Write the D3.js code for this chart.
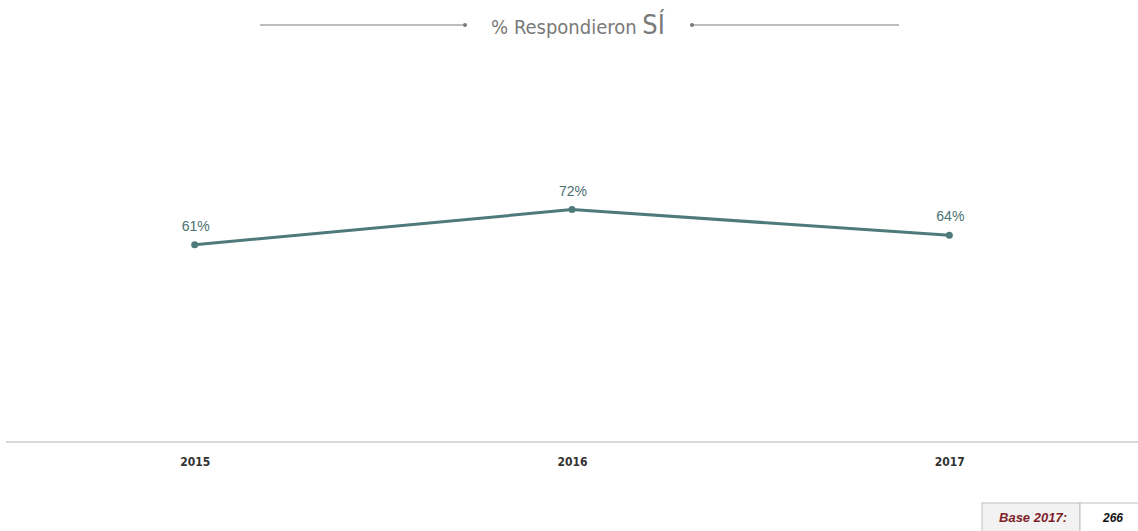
<!DOCTYPE html>
<html>
  <head>
    <meta http-equiv="Content-Type" content="text/html;charset=utf-8"/>
    <script src="https://cdn.jsdelivr.net/npm/d3@7"></script>
    <style type="text/css">
body {
  margin: 0;
  background: #fff;
  overflow: hidden;
}
.title {
  font-family: "Liberation Sans Narrow", "DejaVu Sans Condensed", sans-serif;
  fill: #7a7a7a;
}
.axis text {
  font: bold 12px "Liberation Sans Narrow", "DejaVu Sans Condensed", sans-serif;
  fill: #333;
}
.label {
  font: 14px "Liberation Sans", Arial, sans-serif;
  fill: #4a7070;
}
    </style>
  </head>
  <body>
    <svg></svg>
    <script type="text/javascript">

var years = ["2015", "2016", "2017"];
var values = [61, 72, 64];
var baseLabel = "Base 2017:";
var baseValue = "266";

var W = 1138, H = 531;

var svg = d3.select("svg")
    .attr("width", W)
    .attr("height", H);

var x = d3.scalePoint()
    .domain(years)
    .range([6, 1138])
    .padding(0.5);

var y = d3.scaleLinear()
    .domain([0, 100])
    .range([440, 120]);

var data = years.map((d, i) => ({year: d, val: values[i]}));

// title with side rules
var title = svg.append("g").attr("class", "title");
var tt = title.append("text")
    .attr("x", 578)
    .attr("y", 34)
    .attr("text-anchor", "middle");
tt.append("tspan").attr("font-size", 20).text("% Respondieron ");
tt.append("tspan").attr("font-size", 27).text("SÍ");

[[260, 465], [692, 899]].forEach(function (s, i) {
  title.append("line")
      .attr("x1", s[0]).attr("x2", s[1])
      .attr("y1", 25).attr("y2", 25)
      .attr("stroke", "#7a7a7a")
      .attr("stroke-width", 1);
  title.append("circle")
      .attr("cx", i === 0 ? s[1] : s[0])
      .attr("cy", 25)
      .attr("r", 2)
      .attr("fill", "#7a7a7a");
});

// x axis
var axis = svg.append("g")
    .attr("class", "axis")
    .attr("transform", "translate(0," + 442 + ")")
    .call(d3.axisBottom(x).tickSize(0).tickPadding(15));
axis.select(".domain")
    .attr("d", "M6,0H1138")
    .attr("stroke", "#d9d9d9")
    .attr("stroke-width", 2);

// line
var line = d3.line()
    .x(d => x(d.year))
    .y(d => y(d.val));

svg.append("path")
    .datum(data)
    .attr("d", line)
    .attr("fill", "none")
    .attr("stroke", "#4e7a7a")
    .attr("stroke-width", 3);

svg.selectAll("circle.pt")
    .data(data)
  .enter().append("circle")
    .attr("class", "pt")
    .attr("cx", d => x(d.year))
    .attr("cy", d => y(d.val))
    .attr("r", 3.5)
    .attr("fill", "#4e7a7a");

svg.selectAll("text.label")
    .data(data)
  .enter().append("text")
    .attr("class", "label")
    .attr("x", d => x(d.year) + 1)
    .attr("y", d => y(d.val) - 14)
    .attr("text-anchor", "middle")
    .text(d => d.val + "%");

// base box
var bx = svg.append("g").attr("transform", "translate(982,503)");
bx.append("rect")
    .attr("width", 98).attr("height", 30)
    .attr("fill", "#f2f2f2")
    .attr("stroke", "#bfbfbf");
bx.append("rect")
    .attr("x", 98)
    .attr("width", 60).attr("height", 30)
    .attr("fill", "#fff")
    .attr("stroke", "#bfbfbf");
bx.append("text")
    .attr("x", 51).attr("y", 19)
    .attr("text-anchor", "middle")
    .attr("font-family", "Liberation Sans Narrow, sans-serif")
    .attr("font-size", 13)
    .attr("font-weight", "bold")
    .attr("font-style", "italic")
    .attr("fill", "#7f1f2a")
    .text(baseLabel);
bx.append("text")
    .attr("x", 131).attr("y", 19)
    .attr("text-anchor", "middle")
    .attr("font-family", "Liberation Sans Narrow, sans-serif")
    .attr("font-size", 12)
    .attr("font-weight", "bold")
    .attr("font-style", "italic")
    .attr("fill", "#111")
    .text(baseValue);

    </script>
  </body>
</html>
